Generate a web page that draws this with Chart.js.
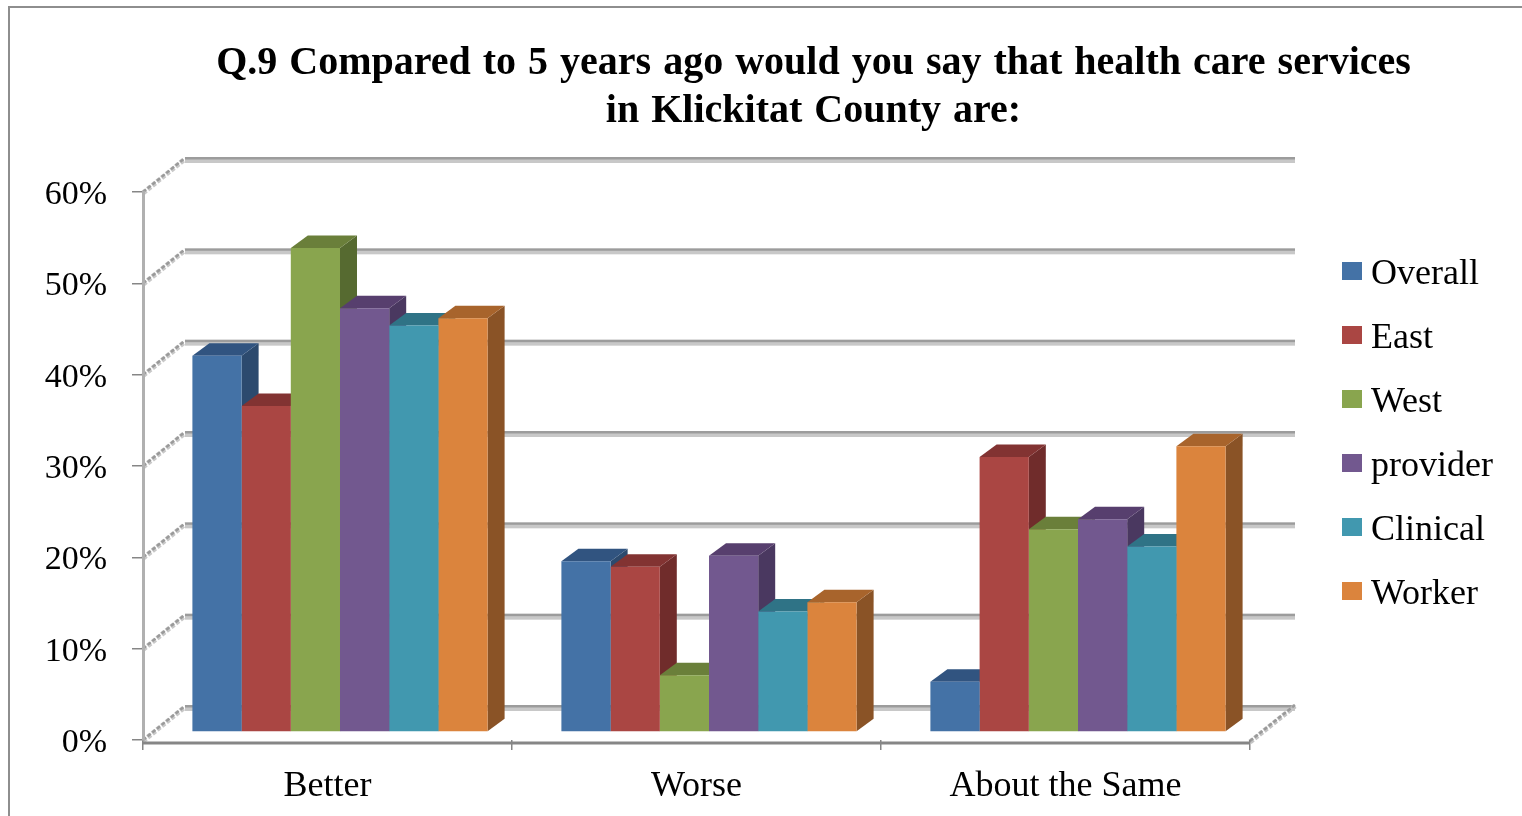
<!DOCTYPE html>
<html><head><meta charset="utf-8">
<style>html,body{margin:0;padding:0;background:#fff;overflow:hidden}canvas{display:block}</style>
<script src="https://cdn.jsdelivr.net/npm/chart.js@4"></script>
</head><body><canvas id="c" width="1522" height="816"></canvas>
<script>
const categories = ["Better", "Worse", "About the Same"];
const Overall  = [41.2, 18.7, 5.5];
const East     = [35.7, 18.1, 30.1];
const West     = [53.0, 6.2, 22.2];
const provider = [46.4, 19.3, 23.3];
const Clinical = [44.5, 13.2, 20.3];
const Worker   = [45.3, 14.2, 31.3];
const seriesNames = ["Overall", "East", "West", "provider", "Clinical", "Worker"];
const seriesValues = [Overall, East, West, provider, Clinical, Worker];
const front = ["#4472a6", "#aa4643", "#89a54e", "#72588f", "#4198af", "#db843d"];
const top3d = ["#315480", "#823332", "#6a7f3a", "#573f6e", "#2f7386", "#a8642c"];
const side  = ["#2c4a6e", "#702c2b", "#566a30", "#4a3860", "#286274", "#8a5326"];
const titleLines = ["Q.9 Compared to 5 years ago would you say that health care services", "in Klickitat County are:"];
const SERIF = "'Liberation Serif','Times New Roman',serif";
const BX = 12.5, BY = -8, DX = 17, DY = -12.5;   // bar placement on the floor, and its depth
const WX = 42, WY = -34;                         // depth of the chart box

const box3d = {
  id: "box3d",
  beforeLayout(chart) {
    const leg = chart.legend, tb = chart.titleBlock;
    if (!leg._wrapped) {
      const f = leg.fit, d = leg.draw;
      leg.fit = function () { f.call(this); this.width = 272; };
      leg.draw = function () {
        const c = this.ctx, ft = c.fillText;
        c.fillText = function (t, x, y, m) { ft.call(c, t, x - 9, y + 4, m); };
        d.call(this);
        delete c.fillText;
      };
      leg._wrapped = true;
    }
    if (!tb._wrapped) {
      const d = tb.draw;
      tb.draw = function () {
        const c = this.ctx; c.save(); c.wordSpacing = "2px"; d.call(this); c.restore();
      };
      tb._wrapped = true;
    }
  },
  afterLayout(chart) {
    const l = chart.legend;
    l.left += 64; l.right += 64; l.top += 23; l.bottom += 23;
    chart.titleBlock.left += 52.5; chart.titleBlock.right += 52.5;
  },
  beforeDraw(chart) {
    const c = chart.ctx, a = chart.chartArea, ys = chart.scales.y;
    c.save();
    // outer frame
    c.strokeStyle = "#8e8e8e"; c.lineWidth = 2;
    c.beginPath(); c.moveTo(9, 816); c.lineTo(9, 7); c.lineTo(1522, 7); c.stroke();
    // back-wall and side-wall gridlines
    ys.ticks.forEach(t => {
      const y = ys.getPixelForValue(t.value);
      c.setLineDash([4, 2]);
      c.lineWidth = 5; c.strokeStyle = "#c8c8c8";
      c.beginPath(); c.moveTo(a.left, y + 1); c.lineTo(a.left + WX, y + WY + 1); c.stroke();
      c.lineWidth = 2.5; c.strokeStyle = "#9a9a9a";
      c.beginPath(); c.moveTo(a.left, y); c.lineTo(a.left + WX, y + WY); c.stroke();
      c.setLineDash([]);
      c.fillStyle = "#c8c8c8"; c.fillRect(a.left + WX, y + WY + 1, a.right + 45 - a.left - WX, 4);
      c.fillStyle = "#9c9c9c"; c.fillRect(a.left + WX, y + WY - 1, a.right + 45 - a.left - WX, 2.5);
    });
    // right edge of floor
    c.setLineDash([4, 2]);
    const y0 = ys.getPixelForValue(0);
    c.lineWidth = 5; c.strokeStyle = "#c4c4c4";
    c.beginPath(); c.moveTo(a.right, y0 + 2); c.lineTo(a.right + 45, y0 + WY); c.stroke();
    c.lineWidth = 2.5; c.strokeStyle = "#9a9a9a";
    c.beginPath(); c.moveTo(a.right, y0 + 1); c.lineTo(a.right + 45, y0 + WY - 1); c.stroke();
    c.setLineDash([]);
    // front floor edge
    c.fillStyle = "#868686"; c.fillRect(a.left, y0 + 1.5, a.right - a.left, 3);
    c.restore();
  },
  beforeDatasetsDraw(chart) {
    const c = chart.ctx;
    c.save();
    c.translate(BX, BY);
    // depth faces, left to right; the library then paints the front faces over them
    seriesNames.forEach((_, i) => {
      chart.getDatasetMeta(i).data.forEach(b => {
        const h = b.getProps(["x", "y", "base", "width"], true);
        const l = h.x - h.width / 2, r = h.x + h.width / 2;
        c.fillStyle = side[i];
        c.beginPath(); c.moveTo(r, h.y); c.lineTo(r + DX, h.y + DY);
        c.lineTo(r + DX, h.base + DY); c.lineTo(r, h.base); c.closePath(); c.fill();
        c.fillStyle = top3d[i];
        c.beginPath(); c.moveTo(l, h.y); c.lineTo(l + DX, h.y + DY);
        c.lineTo(r + DX, h.y + DY); c.lineTo(r, h.y); c.closePath(); c.fill();
      });
    });
  },
  afterDatasetsDraw(chart) { chart.ctx.restore(); }
};

new Chart(document.getElementById("c"), {
  type: "bar",
  plugins: [box3d],
  data: {
    labels: categories,
    datasets: seriesNames.map((n, i) => ({
      label: n, data: seriesValues[i], backgroundColor: front[i], borderWidth: 0,
      categoryPercentage: 0.8, barPercentage: 1, clip: false
    }))
  },
  options: {
    responsive: false, animation: false, events: [],
    layout: { padding: 0 },
    scales: {
      x: {
        afterFit(s) { s.height = 76; },
        grid: { drawOnChartArea: false, drawTicks: true, tickLength: 10, color: "#868686", lineWidth: 1.5 },
        border: { display: false },
        ticks: { color: "#000", font: { family: SERIF, size: 36 }, padding: 15, maxRotation: 0 }
      },
      y: {
        min: 0, max: 60,
        afterFit(s) {
          s.width = 143;
          if (!s._wrapped) {
            const d = s.drawLabels;
            s.drawLabels = function (area) {
              const c = this.ctx; c.save(); c.translate(0, 3); d.call(this, area); c.restore();
            };
            s._wrapped = true;
          }
        },
        grid: { drawOnChartArea: false, drawTicks: true, tickLength: 11, tickColor: "#868686", lineWidth: 1.5 },
        border: { display: true, color: "#b0b0b0", width: 3 },
        ticks: { stepSize: 10, color: "#000", font: { family: SERIF, size: 34 }, padding: 25, callback: v => v + "%" }
      }
    },
    plugins: {
      tooltip: { enabled: false },
      title: {
        display: true, text: titleLines, color: "#000",
        font: { family: SERIF, size: 40, weight: "bold", lineHeight: 1.2 },
        padding: { top: 40, bottom: 56 }
      },
      legend: {
        display: true, position: "right",
        labels: {
          boxWidth: 20, boxHeight: 18, padding: 28, color: "#000",
          font: { family: SERIF, size: 36 }
        }
      }
    }
  }
});
</script></body></html>
